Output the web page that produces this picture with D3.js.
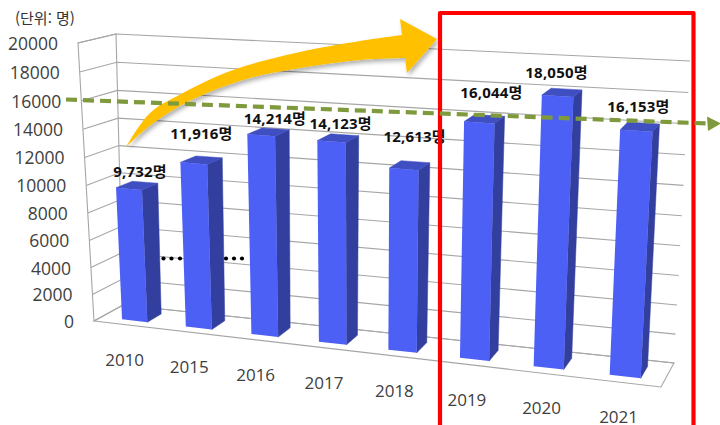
<!DOCTYPE html>
<html lang="ko">
<head>
<meta charset="utf-8">
<script src="https://cdn.jsdelivr.net/npm/d3@7/dist/d3.min.js"></script>
<style>
  html, body { margin: 0; padding: 0; background: #fff; }
  svg { display: block; }
  .tick-y, .tick-x { font-family: "Open Sans", sans-serif; font-size: 17.5px; fill: #404040; }
  .tick-x { font-size: 17px; }
  .value { font-family: "Open Sans", "Noto Sans CJK KR", sans-serif; font-weight: 700; font-size: 15px; letter-spacing: 0.2px; fill: #111; }
  .unit { font-family: "Noto Sans CJK KR", sans-serif; font-size: 15px; fill: #333; }
</style>
</head>
<body>
<svg id="chart" width="720" height="425" viewBox="0 0 720 425"></svg>
<script>
// Yearly head counts
const years = ["2010", "2015", "2016", "2017", "2018", "2019", "2020", "2021"];
const counts = [9732, 11916, 14214, 14123, 12613, 16044, 18050, 16153];
const gridValues = [0, 2000, 4000, 6000, 8000, 10000, 12000, 14000, 16000, 18000, 20000];
const unitLabel = "(단위: 명)";

// Label shifts from the top of each bar, so the labels clear the bars and each other
const labelShift = [[3, -14], [0, -26], [6.5, -13], [2.5, -14], [5, -28], [7, -26], [-5.5, -20], [-1.5, -20]];

// Corners of the 3D plot box as they land on the page
const box = {
  frontBottomLeft: [94, 321], frontBottomRight: [661, 387],
  backBottomLeft: [123, 305], backBottomRight: [674, 363],
  frontTopLeft: [78, 43], frontTopRight: [677, 75],
  backTopLeft: [116, 34], backTopRight: [690, 61]
};

const svg = d3.select("#chart");

const xBand = d3.scaleBand().domain(years).range([0.004, 1]).paddingInner(0.6).paddingOuter(0.3);
const yUnit = d3.scaleLinear().domain([0, 20000]).range([0, 1]);

// Foreshortening along an edge: k > 1 stretches the far end of the range
const foreshorten = k => t => t / (t + k * (1 - t));
const perspX = foreshorten(1.125);
const perspY = foreshorten(1.05);

const mix = (a, b, t) => [a[0] + (b[0] - a[0]) * t, a[1] + (b[1] - a[1]) * t];

// u runs left to right, v bottom to top, w front to back; all three in 0..1
function project(u, v, w) {
  const s = perspX(u), h = perspY(v);
  const bottom = mix(mix(box.frontBottomLeft, box.frontBottomRight, s),
                     mix(box.backBottomLeft, box.backBottomRight, s), w);
  const top = mix(mix(box.frontTopLeft, box.frontTopRight, s),
                  mix(box.backTopLeft, box.backTopRight, s), w);
  return mix(bottom, top, h);
}

const polyline = d3.line();
const closedShape = pts => polyline(pts) + "Z";

// Walls and floor grid
const grid = svg.append("g").attr("fill", "none").attr("stroke", "#a6a6a6").attr("stroke-width", 1.1);
grid.selectAll("path.level").data(gridValues).join("path").attr("class", "level")
  .attr("d", d => {
    const v = yUnit(d);
    return polyline([project(0, v, 0), project(0, v, 1), project(1, v, 1)]);
  });
grid.append("path").attr("d", polyline([project(0, 0, 0), project(0, 1, 0), project(0, 1, 1), project(0, 0, 1)]));
grid.append("path").attr("d", closedShape([project(0, 0, 0), project(1, 0, 0), project(1, 0, 1), project(0, 0, 1)]));

// Axis labels
svg.selectAll("text.tick-y").data(gridValues).join("text").attr("class", "tick-y")
  .attr("text-anchor", "end")
  .attr("x", d => project(0, yUnit(d), 0)[0] - 20)
  .attr("y", d => project(0, yUnit(d), 0)[1] + 7)
  .text(d => d);

svg.selectAll("text.tick-x").data(years).join("text").attr("class", "tick-x")
  .attr("text-anchor", "middle")
  .attr("x", d => project(xBand(d) + xBand.bandwidth() / 2, 0, 0)[0] - 3)
  .attr("y", d => project(xBand(d) + xBand.bandwidth() / 2, 0, 0)[1] + 41)
  .text(d => d);

svg.append("text").attr("class", "unit").attr("x", 15).attr("y", 24).text(unitLabel);

// 3D bars, each built from a front, side and top face
const depthFront = 0.25, depthBack = 0.75;
const bars = svg.selectAll("g.bar").data(years.map((year, i) => ({ year, count: counts[i] })))
  .join("g").attr("class", "bar");

function barCorners(d) {
  const l = xBand(d.year), r = l + xBand.bandwidth(), v = yUnit(d.count);
  return {
    fbl: project(l, 0, depthFront), fbr: project(r, 0, depthFront),
    ftl: project(l, v, depthFront), ftr: project(r, v, depthFront),
    bbr: project(r, 0, depthBack), btr: project(r, v, depthBack), btl: project(l, v, depthBack)
  };
}
bars.append("path").attr("fill", "#323f9f").attr("stroke", "#323f9f").attr("stroke-width", 0.5).attr("d", d => {
  const c = barCorners(d);
  return closedShape([c.fbr, c.bbr, c.btr, c.ftr]);
});
bars.append("path").attr("fill", "#3f4ec0").attr("stroke", "#3f4ec0").attr("stroke-width", 0.5).attr("d", d => {
  const c = barCorners(d);
  return closedShape([c.ftl, c.ftr, c.btr, c.btl]);
});
bars.append("path").attr("fill", "#4c60f6").attr("d", d => {
  const c = barCorners(d);
  return closedShape([c.fbl, c.fbr, c.ftr, c.ftl]);
});

// Value labels
svg.selectAll("text.value").data(counts).join("text").attr("class", "value")
  .attr("text-anchor", "middle")
  .attr("x", (d, i) => project(xBand(years[i]) + xBand.bandwidth() / 2, yUnit(d), 0.5)[0] + labelShift[i][0])
  .attr("y", (d, i) => project(xBand(years[i]) + xBand.bandwidth() / 2, yUnit(d), 0.5)[1] + labelShift[i][1] + 5)
  .text(d => d3.format(",")(d) + "명");

// Ellipsis dots standing in for the skipped years
const ellipsisX = [163.5, 171.5, 180, 226, 234, 242];
svg.selectAll("circle.skip").data(ellipsisX).join("circle").attr("class", "skip")
  .attr("cx", d => d).attr("cy", 258.5).attr("r", 2.1).attr("fill", "#000");

// Curved rising arrow
const defs = svg.append("defs");
const shadow = defs.append("filter").attr("id", "soft-shadow")
  .attr("x", "-10%").attr("y", "-10%").attr("width", "120%").attr("height", "130%");
shadow.append("feDropShadow").attr("dx", 2).attr("dy", 3).attr("stdDeviation", 2)
  .attr("flood-color", "#000").attr("flood-opacity", 0.3);

const smooth = d3.line().curve(d3.curveCatmullRom.alpha(0.5));
const upperEdge = [[126, 147], [150, 113], [183, 93], [233, 70], [300, 52], [360, 41], [402, 35]];
const lowerEdge = [[405, 58], [360, 60], [300, 68], [250, 78], [207, 93], [173, 110], [147, 128], [126, 147]];
const arrowHead = [[402, 35], [400, 19], [437, 39], [407, 73], [405, 58]];
const headPath = polyline(arrowHead).replace(/^M/, "L");
svg.append("path").attr("fill", "#ffc000").attr("filter", "url(#soft-shadow)")
  .attr("d", smooth(upperEdge) + headPath + smooth(lowerEdge).replace(/^M/, "L") + "Z");

// Highlight frame around the latest three years
svg.append("rect").attr("x", 440).attr("y", 13).attr("width", 253.5).attr("height", 430)
  .attr("fill", "none").attr("stroke", "#ff0000").attr("stroke-width", 4.2)
  .attr("stroke-linejoin", "round");

// Dashed reference line with its arrowhead
const trendLine = [[66, 99.5], [708, 123.5]];
const trendHead = [[707, 116.5], [721, 123.5], [708, 131]];
svg.append("path").attr("fill", "none").attr("stroke", "#7f9a3c").attr("stroke-width", 4.2)
  .attr("stroke-dasharray", "11 6").attr("d", polyline(trendLine));
svg.append("path").attr("fill", "#7f9a3c").attr("d", closedShape(trendHead));
</script>
</body>
</html>
